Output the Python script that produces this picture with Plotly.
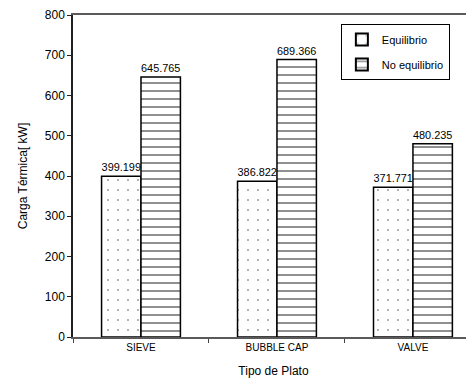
import plotly.graph_objects as go

categories = ["SIEVE", "BUBBLE CAP", "VALVE"]
equilibrio = [399.199, 386.822, 371.771]
no_equilibrio = [645.765, 689.366, 480.235]
series_names = ["Equilibrio", "No equilibrio"]

FONT = "Liberation Sans, Arial, sans-serif"

fig = go.Figure()
fig.add_trace(go.Bar(
    x=categories, y=equilibrio, name=series_names[0],
    text=[f"{v:.3f}" for v in equilibrio], textposition="outside",
    textfont=dict(size=11, color="#000000", family=FONT),
    cliponaxis=False, legendgroup="a",
    marker=dict(color="white", line=dict(color="#000000", width=1.5),
                pattern=dict(shape=".", size=10, solidity=0.03,
                             fgcolor="#333333", bgcolor="white")),
))
fig.add_trace(go.Bar(
    x=categories, y=no_equilibrio, name=series_names[1],
    text=[f"{v:.3f}" for v in no_equilibrio], textposition="outside",
    textfont=dict(size=11, color="#000000", family=FONT),
    cliponaxis=False, legendgroup="b",
    marker=dict(color="white", line=dict(color="#000000", width=1.5),
                pattern=dict(shape="-", size=8, solidity=0.25,
                             fgcolor="#222222", bgcolor="white")),
))

fig.update_layout(
    width=466, height=377,
    margin=dict(l=65, r=0, t=7, b=48, autoexpand=False),
    paper_bgcolor="white", plot_bgcolor="white",
    font=dict(family=FONT, size=11, color="#000000"),
    barmode="group", bargap=0.42, bargroupgap=0,
    showlegend=True,
    legend=dict(x=0.668, y=0.972, xanchor="left", yanchor="top",
                bordercolor="#000000", borderwidth=1, bgcolor="white",
                font=dict(size=11, family=FONT), tracegroupgap=6,
                itemsizing="constant"),
    xaxis=dict(
        range=[-0.5, 2.449], showline=True, mirror=True, linecolor="#5a5a5a", linewidth=1.5,
        ticks="outside", tickson="boundaries", ticklen=4, tickcolor="#404040",
        tickfont=dict(size=10, family=FONT), automargin=False,
        title=dict(text="Tipo de Plato", font=dict(size=12, family=FONT)),
        showgrid=False,
    ),
    yaxis=dict(
        range=[0, 800], dtick=100, showline=True, linecolor="#202020", linewidth=1.5,
        ticks="outside", ticklen=4, tickcolor="#202020",
        tickfont=dict(size=12, family=FONT), automargin=False,
        title=dict(text="Carga Térmica[ kW]", font=dict(size=12, family=FONT)),
        showgrid=False, zeroline=False,
    ),
)

fig.write_html("out.html")
